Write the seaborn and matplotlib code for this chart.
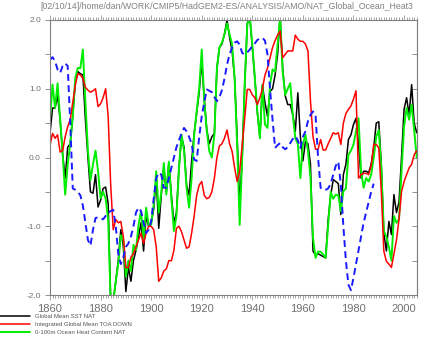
import numpy as np
import pandas as pd
import seaborn as sns
import matplotlib.pyplot as plt
from matplotlib.ticker import MultipleLocator, FormatStrFormatter

years = list(range(1860, 2006))

# Global Mean SST NAT
sst = [
    0.35, 0.72, 0.72, 0.9, 0.55, 0.05, -0.3, 0.15, 0.2, 0.6,
    1.1, 1.25, 1.22, 1.2, 0.55, 0.0, -0.5, -0.52, -0.25, -0.72,
    -0.62, -0.45, -0.43, -0.67, -2.1, -2.1, -1.8, -1.5, -1.05, -1.3,
    -1.95, -1.6, -1.8, -1.5, -1.35, -1.15, -0.95, -1.36, -0.85, -1.0,
    -0.95, -0.75, -0.3, -1.03, -0.55, -0.15, -0.5, -0.08, -0.55, -0.95,
    -0.8, -0.15, 0.3, 0.15, -0.4, -0.55, -0.05, 0.35, 0.65, 0.95,
    1.4, 0.85, 0.4, 0.2, 0.3, 0.35, 1.3, 1.6, 1.65, 1.8,
    2.0, 1.75, 1.55, 1.15, 0.3, -0.69, 0.0, 1.06, 1.95, 2.05,
    1.6, 1.15, 0.65, 0.3, 1.05, 0.8, 0.6, 0.96, 1.0, 1.2,
    1.5, 2.05, 1.3, 0.9, 0.77, 0.77, 0.62, 0.38, 0.94, 0.3,
    -0.05, 0.23, 0.2, -0.1, -1.36, -1.42, -1.4, -1.42, -1.44, -1.46,
    -0.9, -0.55, -0.32, -0.35, -0.38, -0.83, -0.25, -0.1, 0.26, 0.33,
    0.48, 0.57, 0.2, -0.3, -0.2, -0.2, -0.22, -0.1, 0.14, 0.5,
    0.52, -0.1, -1.1, -1.36, -0.93, -1.12, -0.54, -0.8, -0.65, 0.0,
    0.7, 0.87, 0.62, 1.06, 0.5, 0.36]

# Integrated Global Mean TOA DOWN
toa = [
    0.18, 0.35, 0.28, 0.33, 0.08, 0.1, 0.3, 0.45, 0.55, 0.8,
    1.05, 1.22, 1.2, 1.15, 1.02, 0.98, 0.95, 0.97, 1.0, 0.74,
    0.78, 0.87, 1.0, 0.6, -0.4, -1.05, -0.9, -0.95, -0.93, -1.15,
    -1.6, -1.6, -1.45, -1.4, -1.3, -1.2, -1.1, -1.25, -1.1, -1.0,
    -1.0, -1.05, -1.3, -1.8, -1.75, -1.65, -1.62, -1.5, -1.5, -1.35,
    -1.03, -1.0, -1.08, -1.2, -1.32, -1.3, -1.1, -0.85, -0.55, -0.4,
    -0.35, -0.55, -0.6, -0.58, -0.5, -0.3, 0.0, 0.17, 0.2, 0.28,
    0.4, 0.2, 0.09, -0.15, -0.35, -0.2, 0.19, 0.57, 0.99, 0.99,
    0.91, 0.87, 0.77, 0.87, 1.0, 1.2, 1.3, 1.45, 1.6, 1.7,
    1.78, 1.84, 1.45, 1.5, 1.55, 1.55, 1.55, 1.78, 1.72, 1.69,
    1.69, 1.65, 1.55, 0.82, 0.3, 0.12, 0.12, 0.26, 0.11, 0.11,
    0.2, 0.28, 0.36, 0.34, 0.36, 0.19, 0.5, 0.64, 0.7, 0.75,
    0.85, 0.97, -0.3, -0.25, -0.23, -0.23, -0.25, -0.12, 0.19, 0.19,
    0.14, -0.49, -1.36, -1.51, -1.55, -1.6, -1.4, -1.2, -0.9, -0.5,
    -0.35, -0.25, -0.15, -0.1, 0.04, 0.1]

# 0-100m Ocean Heat Content NAT
ohc = [
    0.57, 1.06, 0.72, 1.08, 0.57, 0.05, -0.54, -0.1, 0.2, 0.6,
    1.16, 1.3, 1.3, 1.57, 0.8, 0.1, -0.33, -0.1, 0.1, -0.2,
    -0.59, -0.5, -0.6, -0.9, -2.1, -2.1, -1.8, -1.54, -1.13, -1.2,
    -1.73, -1.5, -1.65, -1.27, -1.35, -0.98, -0.78, -1.2, -0.73, -0.98,
    -0.98, -0.69, -0.2, -0.8, -0.5, -0.08, -0.54, -0.06, -0.6, -1.07,
    -0.85, -0.15, 0.33, 0.1, -0.44, -0.73, -0.3, 0.33, 0.67, 1.01,
    1.57, 0.82, 0.38, 0.09, 0.0, 0.33, 1.3, 1.6, 1.67, 1.79,
    1.95, 1.79, 1.65, 1.16, 0.19, -0.98, 0.0, 1.06, 1.93, 2.05,
    1.64, 1.16, 0.67, 0.28, 1.06, 0.48, 0.43, 1.06, 1.28, 1.25,
    1.64, 2.05, 1.25, 0.91, 1.0, 1.08, 0.62, 0.28, 0.2, -0.3,
    0.19, 0.33, 0.1, -0.3, -1.17, -1.46, -1.37, -1.37, -1.41, -1.46,
    -0.98, -0.5, -0.6, -0.54, -0.55, -0.78, -0.49, -0.45, 0.04, 0.1,
    0.19, 0.38, 0.57, -0.2, -0.44, -0.3, -0.35, -0.25, 0.0, 0.3,
    0.4, -0.15, -1.07, -1.15, -1.3, -1.5, -0.85, -0.95, -0.9, -0.2,
    0.45, 0.72, 0.55, 0.77, 0.4, 0.0]

# smoothed (blue dashed), 1860-1988
smooth_years = list(range(1860, 1989))
smooth = [
    1.42, 1.46, 1.4, 1.28, 1.23, 1.33, 1.37, 1.33, 0.5, -0.45,
    -0.47, -0.5, -0.55, -0.7, -0.95, -1.2, -1.28, -1.05, -0.88, -0.87,
    -0.88, -0.9, -0.85, -0.8, -0.78, -0.76, -1.0, -1.4, -1.55, -1.45,
    -1.3, -1.25, -1.15, -1.0, -0.8, -0.73, -0.78, -0.95, -1.1, -1.05,
    -0.93, -0.6, -0.3, -0.22, -0.25, -0.44, -0.44, -0.3, -0.15, 0.0,
    0.15, 0.25, 0.35, 0.43, 0.38, 0.3, 0.2, -0.03, -0.05, 0.3,
    0.6, 0.8, 0.99, 0.97, 0.95, 0.88, 0.82, 0.88, 0.98, 1.15,
    1.35, 1.5, 1.6, 1.67, 1.69, 1.64, 1.52, 1.5, 1.53, 1.57,
    1.62, 1.66, 1.71, 1.73, 1.74, 1.7, 1.5, 1.0, 0.55, 0.14,
    0.18, 0.21, 0.15, 0.12, 0.15, 0.21, 0.27, 0.31, 0.25, 0.14,
    0.3, 0.38, 0.53, 0.62, 0.67, 0.62, 0.0, -0.44, -0.47, -0.47,
    -0.45, -0.38, -0.25, -0.12, -0.06, -0.4, -1.0, -1.5, -1.85, -1.93,
    -1.75, -1.55, -1.35, -1.15, -0.95, -0.8, -0.65, -0.5, -0.38]

labels = ["Global Mean SST NAT", "Integrated Global Mean TOA DOWN",
          "0-100m Ocean Heat Content NAT"]

sns.set_style("white")
plt.rcParams['font.family'] = ['Liberation Sans', 'DejaVu Sans']

fig = plt.figure(figsize=(4.33, 3.37), dpi=100)
ax = fig.add_axes([50 / 433, 1 - 295 / 337, 366.7 / 433, 275 / 337])

sns.lineplot(x=years, y=sst, color="black", lw=1.1, label=labels[0], ax=ax)
sns.lineplot(x=years, y=ohc, color="#00ee00", lw=1.4, label=labels[2], ax=ax)
sns.lineplot(x=years, y=toa, color="#ff0000", lw=1.1, label=labels[1], ax=ax)
sns.lineplot(x=smooth_years, y=smooth, color="#1a1aff", lw=1.4, ax=ax,
             dashes=False, linestyle=(0, (3.5, 2.2)))

ax.set_xlim(1860, 2005)
ax.set_ylim(-2, 2)
ax.set_xticks(range(1860, 2001, 20))
ax.xaxis.set_minor_locator(MultipleLocator(1))
ax.set_yticks([-2, -1, 0, 1, 2])
ax.yaxis.set_minor_locator(MultipleLocator(0.5))
ax.yaxis.set_major_formatter(FormatStrFormatter('%.1f'))

grey = "#808080"
for s in ax.spines.values():
    s.set_color(grey)
    s.set_linewidth(0.8)
ax.tick_params(axis='x', which='both', top=True, bottom=True, direction='out',
               color=grey, width=0.5, labelcolor="#707070", labelsize=8, pad=3)
ax.tick_params(axis='x', which='major', length=3.5)
ax.tick_params(axis='x', which='minor', length=2)
ax.tick_params(axis='y', which='both', left=True, right=False, direction='out',
               length=3.5, color=grey, width=0.6, labelcolor="#707070",
               labelsize=6, pad=3)

sec = ax.secondary_yaxis('right')
sec.set_yticks([-2, -1.5, -1, -0.5, 0, 0.5, 1, 1.5, 2])
sec.tick_params(direction='in', length=3.5, color=grey, width=0.6,
                labelright=False)
sec.spines['right'].set_color(grey)

ax.set_xlabel("")
ax.set_ylabel("")
ax.get_legend().remove()

handles, labs = ax.get_legend_handles_labels()
order = [labs.index(l) for l in labels]
fig.legend([handles[i] for i in order], labels, loc='upper left',
           bbox_to_anchor=(0.0, 1 - 314 / 337), frameon=False, fontsize=4.3,
           handlelength=5.0, handletextpad=0.9, labelspacing=0.45,
           borderpad=0, borderaxespad=0, labelcolor="#555555")

fig.text(40 / 433, 1 - 2 / 337,
         "[02/10/14]/home/dan/WORK/CMIP5/HadGEM2-ES/ANALYSIS/AMO/NAT_Global_Ocean_Heat3",
         ha='left', va='top', fontsize=6.3, color="#808080")

fig.savefig("out.png", dpi=100)
